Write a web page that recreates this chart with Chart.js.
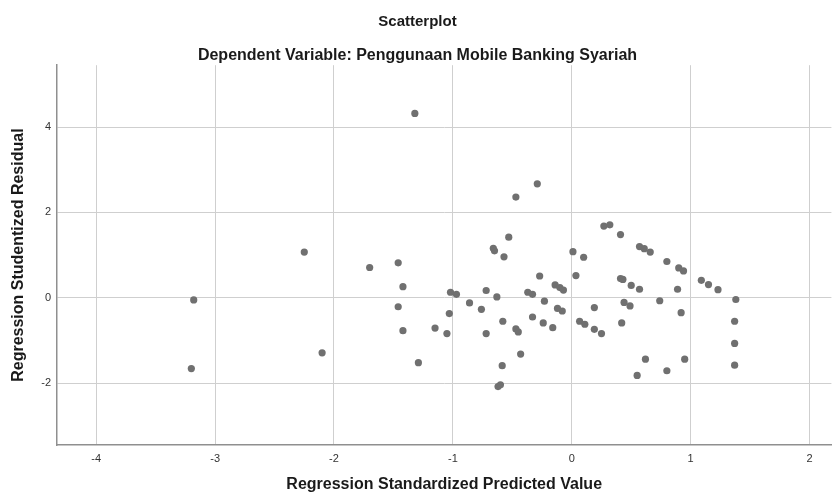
<!DOCTYPE html>
<html>
<head>
<meta charset="utf-8">
<script src="https://cdn.jsdelivr.net/npm/chart.js@4/dist/chart.umd.min.js"></script>
<style>
  html, body { margin: 0; padding: 0; background: #fff; }
  #wrap { width: 835px; height: 495px; }
</style>
</head>
<body>
<div id="wrap"><canvas id="scatter"></canvas></div>
<script>
// Regression residual scatterplot (SPSS style)
const chartTitle = 'Scatterplot';
const chartSubtitle = 'Dependent Variable: Penggunaan Mobile Banking Syariah';
const xAxisTitle = 'Regression Standardized Predicted Value';
const yAxisTitle = 'Regression Studentized Residual';

const xTickValues = [-4, -3, -2, -1, 0, 1, 2];
const yTickValues = [-2, 0, 2, 4];

// standardized predicted value of each case
const predictedValues = [
    -3.18, -3.20, -2.25, -2.10, -1.70, -1.46, -1.42, -1.46, -1.42, -1.32,
    -1.29, -1.15, -1.05, -1.03, -1.02, -0.97, -0.86, -0.76, -0.72, -0.72,
    -0.66, -0.65, -0.63, -0.58, -0.585, -0.62, -0.60, -0.57, -0.53, -0.47,
    -0.47, -0.45, -0.43, -0.37, -0.33, -0.33, -0.29, -0.27, -0.24, -0.23,
    -0.16, -0.14, -0.10, -0.07, -0.12, -0.08, 0.01, 0.035, 0.066, 0.10,
    0.11, 0.19, 0.19, 0.25, 0.27, 0.32, 0.41, 0.41, 0.43, 0.42,
    0.44, 0.49, 0.50, 0.57, 0.57, 0.61, 0.66, 0.55, 0.62, 0.74,
    0.80, 0.80, 0.89, 0.90, 0.94, 0.92, 0.95, 1.09, 1.15, 1.23,
    1.38, 1.37, 1.37, 1.37
];

// studentized residual of each case (same order)
const residuals = [
    -0.05, -1.66, 1.07, -1.29, 0.71, 0.82, 0.26, -0.21, -0.77, 4.32,
    -1.52, -0.71, -0.84, -0.37, 0.13, 0.08, -0.12, -0.27, 0.17, -0.84,
    1.16, 1.10, 0.02, -0.55, -1.59, -2.08, -2.04, 0.96, 1.42, 2.36,
    -0.73, -0.80, -1.32, 0.13, 0.08, -0.45, 2.67, 0.51, -0.59, -0.08,
    -0.70, 0.30, 0.24, 0.18, -0.25, -0.31, 1.08, 0.52, -0.55, 0.95,
    -0.62, -0.23, -0.74, -0.84, 1.68, 1.71, 1.48, 0.45, 0.43, -0.59,
    -0.11, -0.19, 0.29, 0.20, 1.20, 1.15, 1.07, -1.82, -1.44, -0.07,
    0.85, -1.71, 0.20, 0.70, 0.63, -0.35, -1.44, 0.41, 0.31, 0.19,
    -0.04, -0.55, -1.07, -1.58
];

const points = predictedValues.map((x, i) => ({ x: x, y: residuals[i] }));

const fontFamily = 'Arial, "Liberation Sans", Helvetica, sans-serif';
const gridColor = '#cfcfcf';
const axisColor = '#8f8f8f';

const ctx = document.getElementById('scatter');

new Chart(ctx, {
    type: 'scatter',
    data: {
        datasets: [{
            data: points,
            backgroundColor: '#707070',
            borderColor: '#707070',
            borderWidth: 0,
            pointRadius: 3.6,
            pointHoverRadius: 3.6
        }]
    },
    options: {
        responsive: true,
        maintainAspectRatio: false,
        animation: false,
        layout: { padding: { left: 0, right: 0, top: 0, bottom: 0 } },
        plugins: {
            legend: { display: false },
            tooltip: { enabled: false },
            title: {
                display: true,
                text: chartTitle,
                color: '#1a1a1a',
                font: { family: fontFamily, size: 15, weight: 'bold' },
                padding: { top: 13, bottom: 15 }
            },
            subtitle: {
                display: true,
                text: chartSubtitle,
                color: '#1a1a1a',
                font: { family: fontFamily, size: 16, weight: 'bold' },
                padding: { top: 0, bottom: 0 }
            }
        },
        scales: {
            x: {
                type: 'linear',
                min: -4.33,
                max: 2.184,
                afterBuildTicks: (axis) => {
                    axis.ticks = xTickValues.map(v => ({ value: v }));
                },
                afterFit: (axis) => { axis.height = 50; },
                ticks: {
                    color: '#333',
                    font: { family: fontFamily, size: 11 },
                    padding: 7
                },
                grid: {
                    color: gridColor,
                    lineWidth: 1,
                    drawTicks: false
                },
                border: { display: true, color: axisColor, width: 1.5 },
                title: {
                    display: true,
                    text: xAxisTitle,
                    color: '#1a1a1a',
                    font: { family: fontFamily, size: 16, weight: 'bold' },
                    padding: { top: 0, bottom: 1 }
                }
            },
            y: {
                type: 'linear',
                min: -3.45,
                max: 5.45,
                afterBuildTicks: (axis) => {
                    axis.ticks = yTickValues.map(v => ({ value: v }));
                },
                afterFit: (axis) => { axis.width = 57; },
                ticks: {
                    color: '#333',
                    font: { family: fontFamily, size: 11 },
                    padding: 6
                },
                grid: {
                    color: gridColor,
                    lineWidth: 1,
                    drawTicks: false
                },
                border: { display: true, color: axisColor, width: 1.5 },
                title: {
                    display: true,
                    text: yAxisTitle,
                    color: '#1a1a1a',
                    font: { family: fontFamily, size: 16, weight: 'bold' },
                    padding: { top: 9, bottom: 0 }
                }
            }
        }
    }
});
</script>
</body>
</html>
